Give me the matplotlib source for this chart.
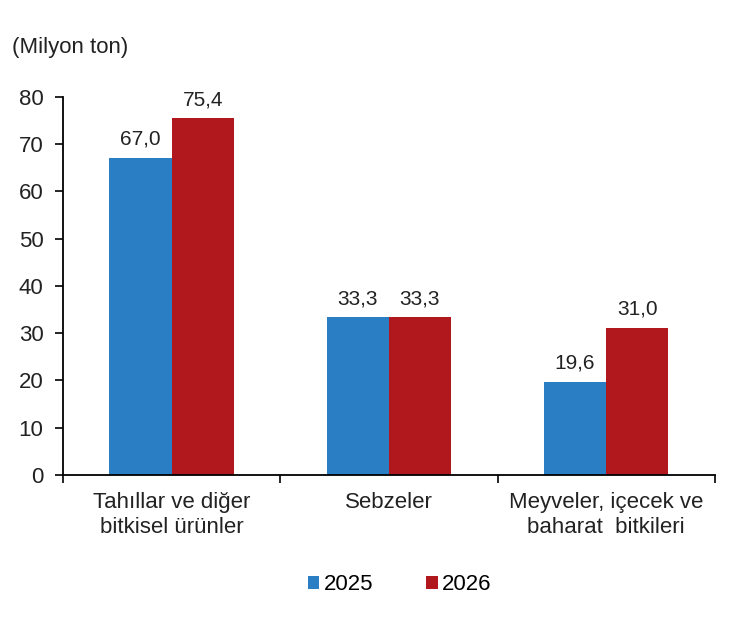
import numpy as np
import matplotlib.pyplot as plt

plt.rcParams['font.family'] = ['Liberation Sans', 'DejaVu Sans']

# Data
categories = ["Tahıllar ve diğer\nbitkisel ürünler", "Sebzeler", "Meyveler, içecek ve\nbaharat  bitkileri"]
values_2025 = [67.0, 33.3, 19.6]
values_2026 = [75.4, 33.3, 31.0]
years = ["2025", "2026"]

blue = "#2a7fc4"
red = "#b0181d"
txt = "#222222"

fig = plt.figure(figsize=(7.5, 6.2), dpi=100)
ax = fig.add_axes([0.084, 0.234, 0.869, 0.61])

x = np.arange(len(categories))
w = 0.286
b1 = ax.bar(x - w / 2, values_2025, w, color=blue, label=years[0])
b2 = ax.bar(x + w / 2, values_2026, w, color=red, label=years[1])

for bars in (b1, b2):
    for rect in bars:
        h = rect.get_height()
        ax.text(rect.get_x() + rect.get_width() / 2, h + 2.0, f"{h:.1f}".replace(".", ","),
                ha="center", va="bottom", fontsize=15, color=txt)

ax.set_xlim(-0.5, 2.5)
ax.set_ylim(0, 80)
ax.set_yticks(range(0, 81, 10))
ax.set_xticks(np.arange(-0.5, 2.6, 1))
ax.set_xticklabels([])
ax.set_xticks(x, minor=True)
ax.set_xticklabels(categories, minor=True, fontsize=16, color=txt, linespacing=1.25)
ax.tick_params(axis="x", which="minor", length=0, pad=12)
ax.tick_params(axis="x", which="major", length=6, width=1.2, direction="out")
ax.tick_params(axis="y", length=6, width=1.2, direction="out", labelsize=16, labelcolor=txt, pad=8)

for s in ["top", "right"]:
    ax.spines[s].set_visible(False)
for s in ["left", "bottom"]:
    ax.spines[s].set_linewidth(1.3)

fig.text(0.016, 0.915, "(Milyon ton)", fontsize=16, color=txt)

fig.legend(handles=[b1, b2], labels=years, loc="center", bbox_to_anchor=(0.533, 0.057),
           ncol=2, frameon=False, fontsize=16, handlelength=0.5, handleheight=0.5,
           handletextpad=0.2, columnspacing=2.4)

fig.savefig("out.png", dpi=100)
